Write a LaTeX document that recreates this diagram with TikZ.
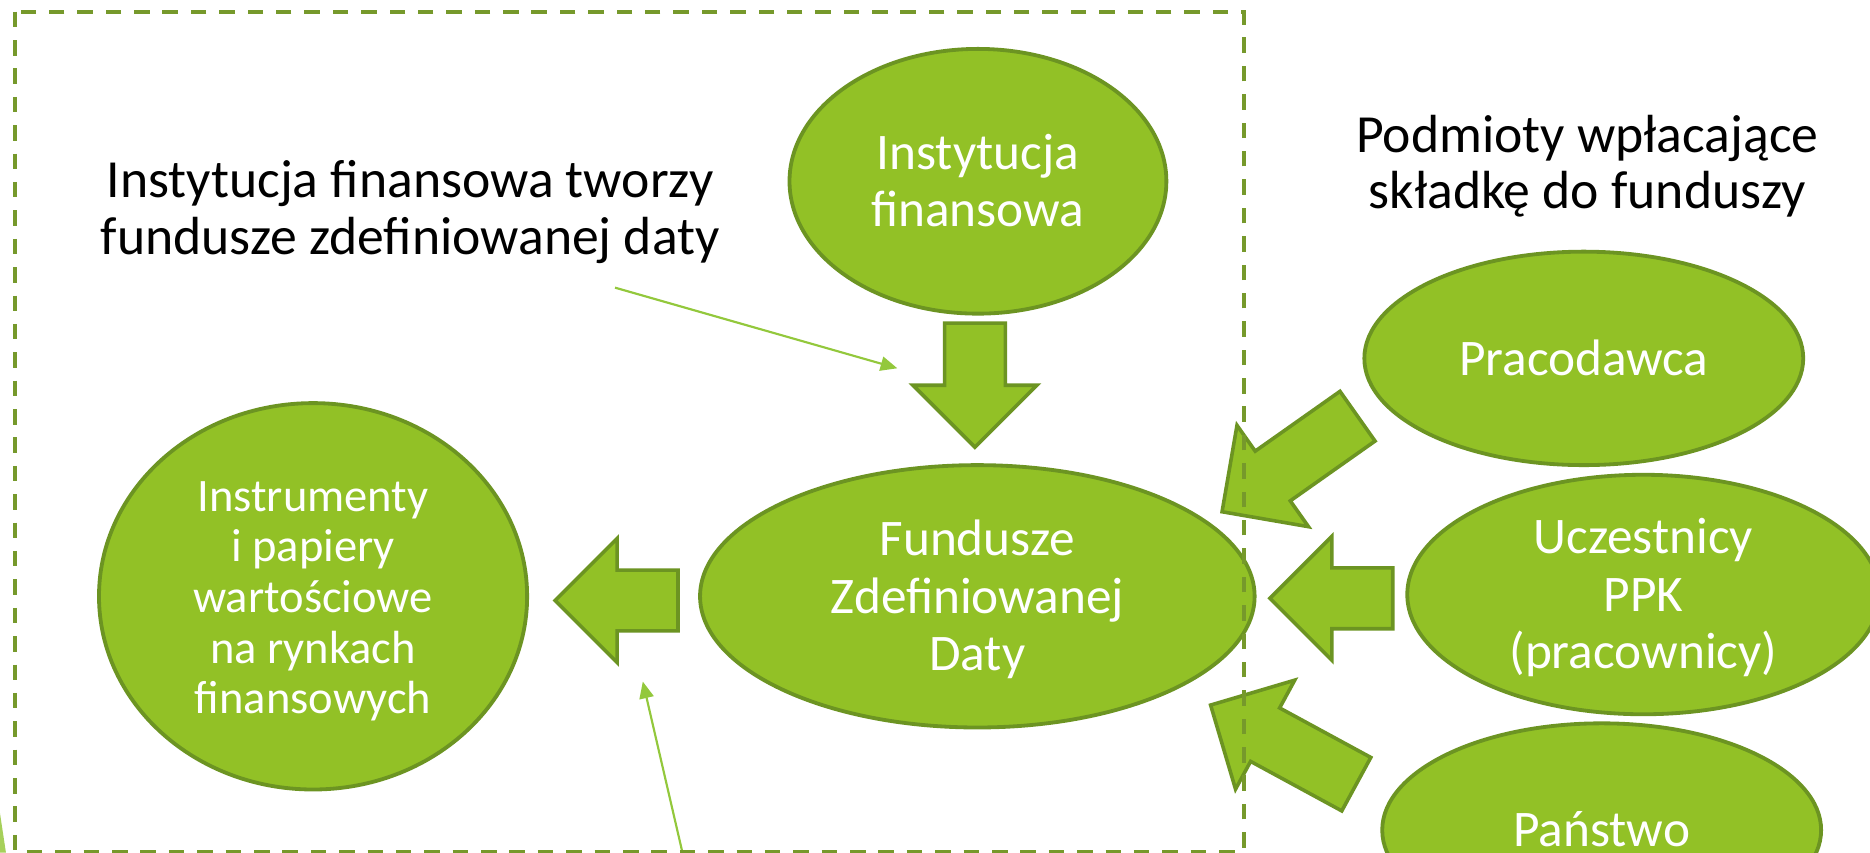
\documentclass[tikz,border=0pt]{standalone}
\usepackage{fontspec}
\setmainfont{Carlito}
\usetikzlibrary{shapes.geometric,arrows.meta}
\definecolor{gfill}{HTML}{92C126}
\definecolor{gline}{HTML}{6C9422}
\definecolor{gdash}{HTML}{76992B}
\definecolor{garrow}{HTML}{93C83C}
\definecolor{gpale}{HTML}{A6D05A}
\newcommand\stA{\rule[-9pt]{0pt}{46pt}}
\newcommand\stB{\rule[-7pt]{0pt}{41pt}}
\begin{document}
\begin{tikzpicture}[x=1pt,y=-1pt,
 blob/.style={ellipse, draw=gline, fill=gfill, line width=3.2pt, inner sep=0pt, text=white, align=center, font=\fontsize{43}{48}\selectfont},
 outtext/.style={align=center, inner sep=0pt, text=black},
 barrowstyle/.style={draw=gline, fill=gfill, line width=3pt, line join=miter},
 thinarrow/.style={draw=garrow, line width=1.8pt, -{Triangle[length=14pt,width=12pt]}},
 frame/.style={draw=gdash, line width=3.4pt, dash pattern=on 13pt off 10.8pt},
 pics/barrow/.style={code={\path[barrowstyle] (0,0) -- (52,-52) -- (52,-25.5) -- (#1,-25.5) -- (#1,25.5) -- (52,25.5) -- (52,52) -- cycle;}}
]
\useasboundingbox (0,0) rectangle (1568,715);
\clip (0,0) rectangle (1568,715);
\fill[white] (0,0) rectangle (1568,715);
\fill[gpale] (0,682) -- (5,715) -- (0,715) -- cycle;

% ellipses
\node[blob, minimum width=316, minimum height=222] (inst) at (820,152) {\stA Instytucja\\finansowa\stA};
\node[blob, minimum width=359, minimum height=324, font=\fontsize{39}{42.5}\selectfont] (instr) at (262.5,500) {\stB Instrumenty\\i papiery\\wartościowe\\na rynkach\\finansowych\stB};
\node[blob, minimum width=465, minimum height=220] (fund) at (819.5,500) {\stA Fundusze\\Zdefiniowanej\\Daty\stA};
\node[blob, minimum width=368, minimum height=179] (prac) at (1328,300.5) {\stA Pracodawca};
\node[blob, minimum width=396, minimum height=199] (ucz) at (1378,498.5) {\stA Uczestnicy\\PPK\\(pracownicy)\stA};
\node[blob, minimum width=368, minimum height=179] (pan) at (1343,696) {\stA Państwo};

% texts
\node[outtext, font=\fontsize{45}{45}\selectfont] (lefttxt) at (344,175.5) {\stA Instytucja finansowa tworzy\\fundusze zdefiniowanej daty\stA};
\node[outtext, font=\fontsize{45}{47}\selectfont] (righttxt) at (1331,137.5) {\stA Podmioty wpłacające\\składkę do funduszy\stA};

% block arrows
\coordinate (tipDown) at (817.5,375);
\coordinate (tipLeft) at (465.5,503.5);
\coordinate (tipU) at (1064.8,501.7);
\coordinate (tipP) at (1024.7,429.1);
\coordinate (tipS) at (1015.1,591.2);
\pic[rotate=90] at (tipDown) {barrow=104};
\pic at (tipLeft) {barrow=103};
\pic at (tipU) {barrow=103};
\pic[rotate=35.2] at (tipP) {barrow=139};
\pic[rotate=-28.5] at (tipS) {barrow=139};

% thin arrows
\coordinate (a1s) at (515.7,241.2);
\coordinate (a1e) at (752.4,308.8);
\coordinate (a2s) at (572.5,716);
\coordinate (a2e) at (539,571.5);
\draw[thinarrow] (a1s) -- (a1e);
\draw[thinarrow] (a2s) -- (a2e);

% dashed frame
\draw[frame] (12.8,9.8) rectangle (1042.8,714);
\end{tikzpicture}
\end{document}
